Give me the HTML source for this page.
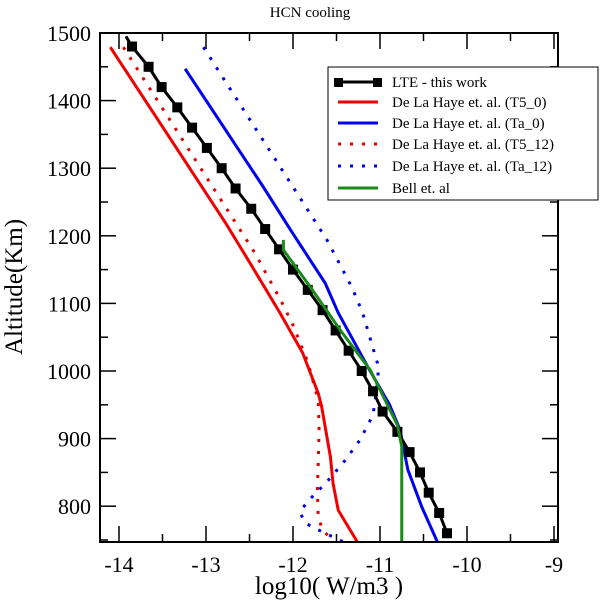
<!DOCTYPE html>
<html><head><meta charset="utf-8"><style>
body{margin:0;background:#fff;}
svg{display:block;font-family:"Liberation Serif",serif;}
</style></head><body>
<svg id="c" width="600" height="600"></svg>
<script>
const xTicks=[-14,-13,-12,-11,-10,-9];
const yTicks=[800,900,1000,1100,1200,1300,1400,1500];
const lteAlt=[1495,1480,1450,1420,1390,1360,1330,1300,1270,1240,1210,1180,1150,1120,1090,1060,1030,1000,970,940,910,880,850,820,790,760];
const lteVal=[-13.92,-13.85,-13.66,-13.51,-13.33,-13.16,-12.99,-12.82,-12.66,-12.48,-12.32,-12.16,-12.00,-11.83,-11.66,-11.51,-11.36,-11.21,-11.08,-10.97,-10.80,-10.66,-10.54,-10.44,-10.32,-10.23];
const t50Alt=[1479,1220,1161,1086,1027,967,947,873,834,794,747];
const t50Val=[-14.10,-12.78,-12.50,-12.15,-11.89,-11.71,-11.67,-11.57,-11.54,-11.48,-11.26];
const ta0Alt=[1447,1272,1209,1130,1086,1006,950,913,854,799,747];
const ta0Val=[-13.24,-12.34,-12.03,-11.63,-11.48,-11.14,-10.89,-10.77,-10.68,-10.52,-10.34];
const t512Alt=[1479,1175,1102,1068,1013,957,913,864,824,784,765,750];
const t512Val=[-13.95,-12.44,-12.13,-12.00,-11.83,-11.71,-11.70,-11.71,-11.72,-11.71,-11.66,-11.55];
const ta12Alt=[1479,1194,1123,1086,1012,991,935,898,868,836,806,791,775,765,746];
const ta12Val=[-13.03,-11.61,-11.32,-11.20,-11.03,-11.02,-11.08,-11.23,-11.40,-11.61,-11.84,-11.92,-11.86,-11.71,-11.40];
const bellAlt=[1194,1179,1124,1061,1001,920,888,747];
const bellVal=[-12.11,-12.11,-11.80,-11.46,-11.11,-10.80,-10.75,-10.75];

const L=100,R=558,T=33,B=542;
const X=v=>119+(v+14)*87;
const Y=a=>33+(1500-a)*0.676;
const svg=document.getElementById('c');
const NS='http://www.w3.org/2000/svg';
function mk(tag,attrs,parent){const e=document.createElementNS(NS,tag);for(const k in attrs)e.setAttribute(k,attrs[k]);(parent||svg).appendChild(e);return e;}
function txt(s,attrs,name){const e=mk('text',attrs);e.textContent=s;return e;}

const clip=mk('clipPath',{id:'pc'});mk('rect',{x:L,y:T,width:R-L,height:B-T},clip);
const plot=mk('g',{'clip-path':'url(#pc)'});



function series(alt,val,color,dotted,name){
  const p=mk('polyline',{points:alt.map((a,i)=>X(val[i])+','+Y(a)).join(' '),fill:'none',stroke:color,'stroke-width':3,'stroke-dasharray':dotted?'3,9':'none','stroke-linecap':dotted?'butt':'butt'},plot);
  
  
}
series(t50Alt,t50Val,'#f00000',false,'series-t5-0');
series(t512Alt,t512Val,'#e00000',true,'series-t5-12');
series(ta0Alt,ta0Val,'#0000f0',false,'series-ta-0');
series(ta12Alt,ta12Val,'#0000e0',true,'series-ta-12');
series(lteAlt,lteVal,'#000',false,'series-lte');
lteAlt.forEach((a,i)=>{if(i===0)return;const r=mk('rect',{x:X(lteVal[i])-5,y:Y(a)-5,width:10,height:10,fill:'#000'},plot);

});
series(bellAlt,bellVal,'#1a8a1a',false,'series-bell');

// axes frame and ticks
const frame=mk('rect',{x:L,y:T,width:R-L,height:B-T,fill:'none',stroke:'#000','stroke-width':2});


for(let v=-14;v<=-9;v+=0.5){const x=X(v);const len=Number.isInteger(v)?16:8;
 mk('line',{x1:x,y1:B,x2:x,y2:B-len,stroke:'#000','stroke-width':1.5});
 mk('line',{x1:x,y1:T,x2:x,y2:T+len,stroke:'#000','stroke-width':1.5});}
for(let a=750;a<=1500;a+=50){const y=Y(a);const len=a%100===0?16:8;
 mk('line',{x1:L,y1:y,x2:L+len,y2:y,stroke:'#000','stroke-width':1.5});
 mk('line',{x1:R,y1:y,x2:R-len,y2:y,stroke:'#000','stroke-width':1.5});}
xTicks.forEach(v=>txt(String(v).replace('-','-'),{x:X(v),y:572,'font-size':22,'text-anchor':'middle'},'x-tick-label'));
yTicks.forEach(a=>txt(String(a),{x:91,y:Y(a)+8,'font-size':22,'text-anchor':'end'},'y-tick-label'));
txt('log10( W/m3 )',{x:329,y:594,'font-size':25,'text-anchor':'middle'},'x-axis-title');
txt('Altitude(Km)',{x:0,y:0,'font-size':25,'text-anchor':'middle',transform:'translate(22,287) rotate(-90)'},'y-axis-title');
txt('HCN cooling',{x:310,y:17,'font-size':15,'text-anchor':'middle'},'chart-title');

// legend
const lg=mk('g',{});


mk('rect',{x:328,y:67,width:270,height:133,fill:'#fff',stroke:'#000','stroke-width':1},lg);
const entries=[['LTE - this work','#000',false,true],['De La Haye et. al. (T5_0)','#f00000',false,false],['De La Haye et. al. (Ta_0)','#0000f0',false,false],['De La Haye et. al. (T5_12)','#e00000',true,false],['De La Haye et. al. (Ta_12)','#0000e0',true,false],['Bell et. al','#1a8a1a',false,false]];
const ly=[82,102,123,144,166,188];
entries.forEach((e,i)=>{
 const g=mk('g',{},lg);
 
 
 mk('line',{x1:338,y1:ly[i],x2:378,y2:ly[i],stroke:e[1],'stroke-width':3,'stroke-dasharray':e[2]?'3,9':'none'},g);
 if(e[3]){mk('rect',{x:334,y:ly[i]-4,width:9,height:9,fill:'#000'},g);mk('rect',{x:373,y:ly[i]-4,width:9,height:9,fill:'#000'},g);}
 const t=mk('text',{x:392,y:ly[i]+5,'font-size':15},g);t.textContent=e[0];
 
 
});
</script>
</body></html>
